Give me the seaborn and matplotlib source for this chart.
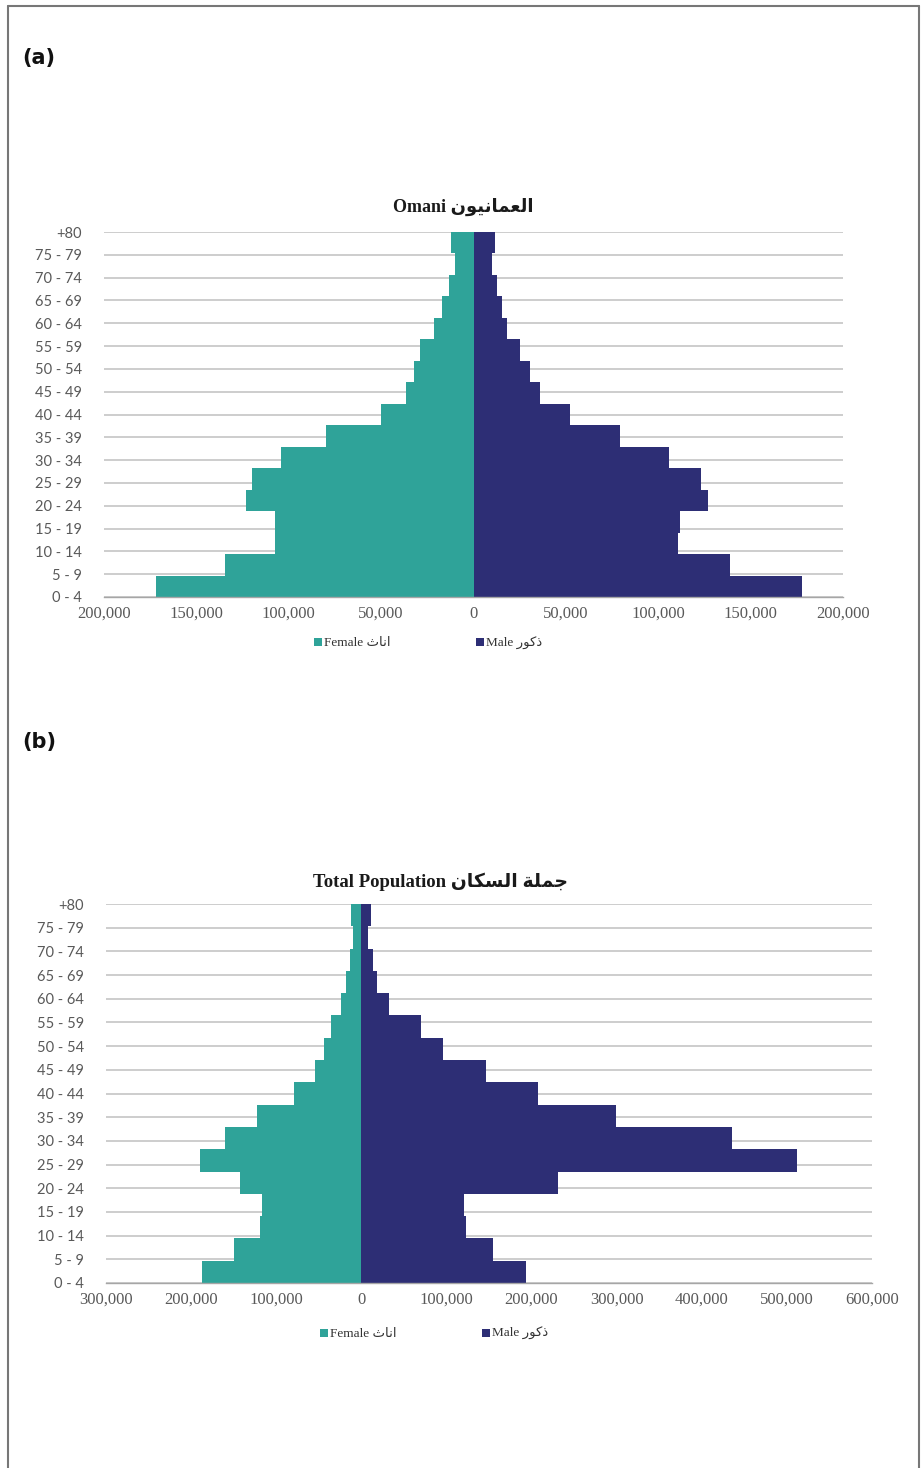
import numpy as np
import pandas as pd
import matplotlib
matplotlib.use("Agg")
import matplotlib.pyplot as plt
import seaborn as sns
from matplotlib.ticker import FuncFormatter
from matplotlib.patches import Patch
from matplotlib.lines import Line2D

# ---------------- data ----------------
age_groups = ["+80", "75 - 79", "70 - 74", "65 - 69", "60 - 64", "55 - 59", "50 - 54",
              "45 - 49", "40 - 44", "35 - 39", "30 - 34", "25 - 29", "20 - 24",
              "15 - 19", "10 - 14", "5 - 9", "0 - 4"]

omani_female = [12000, 9900, 13500, 16800, 21600, 29200, 32400, 36600, 49900,
                79800, 104000, 120000, 123000, 107600, 107600, 134600, 171700]
omani_male = [11900, 9900, 12800, 15300, 18100, 24900, 30700, 36100, 52500,
              79500, 105800, 123000, 127000, 111600, 110700, 139000, 178000]

total_female = [11800, 9800, 13700, 17600, 23500, 35300, 44300, 54000, 79600,
                122700, 160000, 190000, 143000, 117000, 119600, 149800, 187000]
total_male = [11700, 8400, 13400, 18000, 32700, 70500, 96500, 146000, 207000,
              299000, 435600, 512000, 231600, 120400, 123000, 155000, 194000]

sexes = ["Female", "Male"]

# Arabic text (presentation forms, visual order)
omani_ar = "\uFEE5\uFEEE\uFEF4\uFEE7\uFE8E\uFEE4\uFECC\uFEDF\uFE8D"          # العمانيون
total_ar = "\uFEE5\uFE8E\uFEDC\uFEB4\uFEDF\uFE8D \uFE94\uFEE0\uFEE4\uFE9F"  # جملة السكان
female_ar = "\uFE99\uFE8E\uFEE7\uFE8D"                                      # اناث
male_ar = "\uFEAD\uFEEE\uFEDB\uFEAB"                                        # ذكور

title_a = "Omani " + omani_ar
title_b = "Total Population " + total_ar
legend_labels = ["Female " + female_ar, "Male " + male_ar]

# ---------------- style ----------------
TEAL = "#2FA399"
NAVY = "#2D2E75"
GRID = "#C9C9C9"
TXT = "#595959"
SERIF = ["Liberation Serif", "DejaVu Sans"]
W, H = 921, 1468

sns.set_theme(style="white")
plt.rcParams["font.family"] = ["Lato", "DejaVu Sans"]

fig = plt.figure(figsize=(W / 100, H / 100), dpi=100)


def rect(l, t, r, b):
    return [l / W, 1 - b / H, (r - l) / W, (b - t) / H]


def pyramid(ax, female, male, xmin, xmax, step):
    df = pd.DataFrame({
        "age": age_groups * 2,
        "sex": ["Female"] * len(age_groups) + ["Male"] * len(age_groups),
        "value": [-v for v in female] + list(male),
    })
    sns.barplot(data=df, x="value", y="age", hue="sex", order=age_groups,
                hue_order=sexes, palette=[TEAL, NAVY], dodge=False, width=1.0,
                orient="h", saturation=1, linewidth=0, legend=False, ax=ax)
    n = len(age_groups)
    ax.set_ylim(n - 0.5, -0.5)
    ticks = -0.5 + np.arange(n) * n / (n - 1)
    ax.set_yticks(ticks)
    ax.set_yticklabels(age_groups)
    ax.set_xlim(xmin, xmax)
    ax.set_xticks(np.arange(xmin, xmax + 1, step))
    ax.xaxis.set_major_formatter(FuncFormatter(lambda v, p: f"{abs(int(round(v))):,}"))
    ax.grid(axis="y", color=GRID, linewidth=1.3)
    ax.grid(axis="x", visible=False)
    ax.set_axisbelow(True)
    for s in ["left", "right", "top"]:
        ax.spines[s].set_visible(False)
    ax.spines["bottom"].set_color("#A6A6A6")
    ax.spines["bottom"].set_linewidth(1.0)
    ax.tick_params(axis="y", length=0, pad=16, labelsize=10.5, labelcolor=TXT)
    ax.tick_params(axis="x", length=3.5, width=0.8, color="#A6A6A6", direction="out",
                   pad=3.0, labelsize=12, labelcolor=TXT)
    for lab in ax.get_xticklabels():
        lab.set_family(SERIF)
    ax.set_xlabel("")
    ax.set_ylabel("")


def add_legend(ax, cx, cy):
    handles = [Patch(facecolor=TEAL, edgecolor="none", label=legend_labels[0]),
               Patch(facecolor=NAVY, edgecolor="none", label=legend_labels[1])]
    ax.legend(handles=handles, loc="center", bbox_to_anchor=(cx / W, 1 - cy / H),
              bbox_transform=fig.transFigure, ncol=2, frameon=False,
              handlelength=0.6, handleheight=0.6, handletextpad=0.15,
              columnspacing=6.5, prop={"family": SERIF, "size": 9.5},
              labelcolor="#333333")


# (a) Omani
ax1 = fig.add_axes(rect(104, 232, 843, 597))
pyramid(ax1, omani_female, omani_male, -200000, 200000, 50000)
fig.text(463 / W, 1 - 207 / H, title_a, ha="center", va="center",
         fontsize=13, fontweight="bold", family=SERIF, color="#1a1a1a")
add_legend(ax1, 428, 643)

# (b) Total population
ax2 = fig.add_axes(rect(106, 904, 872, 1283))
pyramid(ax2, total_female, total_male, -300000, 600000, 100000)
fig.text(440 / W, 1 - 882 / H, title_b, ha="center", va="center",
         fontsize=13.5, fontweight="bold", family=SERIF, color="#1a1a1a")
add_legend(ax2, 434, 1334)

# panel labels
fig.text(22 / W, 1 - 58 / H, "(a)", ha="left", va="center", fontsize=15,
         fontweight="bold", family="DejaVu Sans", color="#111111")
fig.text(22 / W, 1 - 742 / H, "(b)", ha="left", va="center", fontsize=15,
         fontweight="bold", family="DejaVu Sans", color="#111111")

# frame lines
fig.add_artist(Line2D([8 / W, 8 / W], [0, 1 - 6 / H], transform=fig.transFigure,
                      color="#777777", linewidth=1.5))
fig.add_artist(Line2D([8 / W, 919 / W], [1 - 6 / H, 1 - 6 / H], transform=fig.transFigure,
                      color="#777777", linewidth=1.5))
fig.add_artist(Line2D([919 / W, 919 / W], [0, 1 - 6 / H], transform=fig.transFigure,
                      color="#777777", linewidth=1.5))

fig.savefig("out.png", dpi=100)
